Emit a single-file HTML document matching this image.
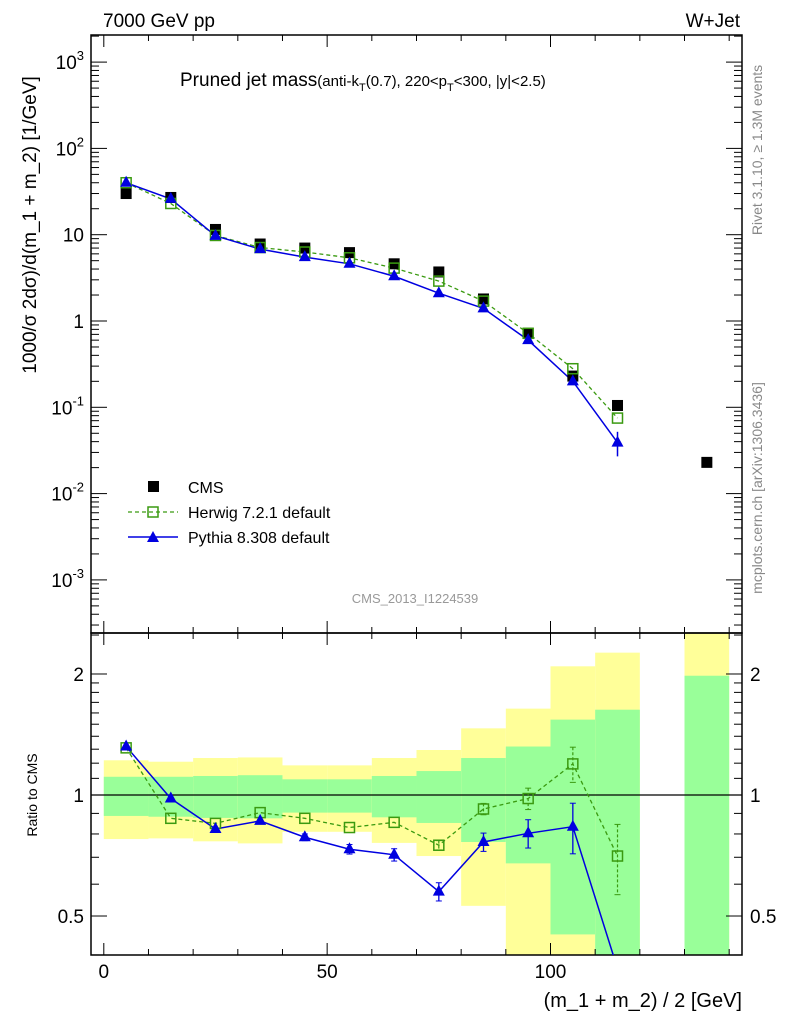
<!DOCTYPE html>
<html><head><meta charset="utf-8">
<style>
html,body{margin:0;padding:0;background:#fff;}
svg{display:block;font-family:"Liberation Sans",sans-serif;}
</style></head>
<body>
<svg id="chart" width="786" height="1024" viewBox="0 0 786 1024" xmlns="http://www.w3.org/2000/svg">
<g id="bands"></g>
<g id="grid"></g>
<g id="series"></g>
<text x="103" y="27" font-size="19">7000 GeV pp</text>
<text x="740" y="27" font-size="19" text-anchor="end">W+Jet</text>
<text x="180" y="86" font-size="19">Pruned jet mass<tspan font-size="15">(anti-k<tspan font-size="11" dy="5">T</tspan><tspan dy="-5">(0.7), 220&lt;p</tspan><tspan font-size="11" dy="5">T</tspan><tspan dy="-5">&lt;300, |y|&lt;2.5)</tspan></tspan></text>
<text transform="translate(36,225) rotate(-90)" font-size="19" text-anchor="middle">1000/σ 2dσ)/d(m_1 + m_2) [1/GeV]</text>
<text transform="translate(37,795) rotate(-90)" font-size="14" text-anchor="middle">Ratio to CMS</text>
<text x="742" y="1007" font-size="20" text-anchor="end">(m_1 + m_2) / 2 [GeV]</text>
<text transform="translate(762,150) rotate(-90)" font-size="14" fill="#888" text-anchor="middle">Rivet 3.1.10, ≥ 1.3M events</text>
<text transform="translate(762,488) rotate(-90)" font-size="14" fill="#888" text-anchor="middle">mcplots.cern.ch [arXiv:1306.3436]</text>
<text x="415" y="603" font-size="13" fill="#999" text-anchor="middle">CMS_2013_I1224539</text>
<g>
<rect x="148" y="481" width="11" height="11" fill="#000"/>
<text x="188" y="493" font-size="16">CMS</text>
<line x1="128" y1="512" x2="178" y2="512" stroke="#3a9a10" stroke-width="1.3" stroke-dasharray="4,3"/>
<rect x="148" y="507" width="10" height="10" fill="none" stroke="#3a9a10" stroke-width="1.5"/>
<text x="188" y="518" font-size="16">Herwig 7.2.1 default</text>
<line x1="128" y1="537" x2="178" y2="537" stroke="#0000e0" stroke-width="1.5"/>
<polygon points="153,531 159,542 147,542" fill="#0000e0"/>
<text x="188" y="543" font-size="16">Pythia 8.308 default</text>
</g>
</svg>
<script>
const xs = [5,15,25,35,45,55,65,75,85,95,105,115];
const cmsX = [5,15,25,35,45,55,65,75,85,95,105,115,135];
const cmsVals = [30,27,11.5,7.8,7.0,6.2,4.6,3.7,1.8,0.72,0.23,0.105,0.023];
const herwigVals = [40,23,9.8,7.1,6.3,5.4,4.1,2.9,1.7,0.72,0.28,0.075];
const pythiaVals = [40,26,9.7,6.8,5.5,4.6,3.3,2.1,1.4,0.6,0.2,0.039];
const herwigRatio = [1.31,0.875,0.85,0.904,0.875,0.83,0.855,0.75,0.923,0.98,1.195,0.705];
const herwigRatioErr = [0.01,0.01,0.01,0.01,0.01,0.01,0.01,0.02,0.03,0.06,0.12,0.14];
const pythiaRatio = [1.32,0.98,0.823,0.862,0.785,0.733,0.71,0.575,0.764,0.803,0.834,0.37];
const pythiaRatioErr = [0.01,0.01,0.01,0.01,0.015,0.02,0.025,0.03,0.04,0.065,0.12,0.01];
const pythiaErrLo = [0,0,0,0,0,0,0,0,0,0,0.01,0.012];
const pythiaErrHi = [0,0,0,0,0,0,0,0,0,0,0.01,0.013];
const binLo = [0,10,20,30,40,50,60,70,80,90,100,110,130];
const binHi = [10,20,30,40,50,60,70,80,90,100,110,120,140];
const yellowHi = [1.22,1.21,1.236,1.24,1.185,1.185,1.236,1.294,1.465,1.64,2.09,2.26,3];
const greenHi = [1.11,1.11,1.115,1.12,1.094,1.094,1.115,1.147,1.236,1.32,1.54,1.63,1.98];
const greenLo = [0.887,0.883,0.877,0.875,0.904,0.904,0.88,0.852,0.764,0.676,0.45,0.3,0.3];
const yellowLo = [0.777,0.78,0.767,0.758,0.81,0.81,0.76,0.705,0.53,0.3,0.3,0.3,0.3];
const upperTickExps = [-3,-2,-1,0,1,2,3];
const ratioTicks = [0.5,1,2];
const xTicks = [0,50,100];

const NS='http://www.w3.org/2000/svg';
const L=91,R=742,T=35,M=633,B=955;
const X=v=>103.8+v*4.467;
const YU=v=>321-86.3*Math.log10(v);
const YR=v=>795-402*Math.log10(v);
function mk(parent,tag,attrs){const e=document.createElementNS(NS,tag);for(const k in attrs)e.setAttribute(k,attrs[k]);parent.appendChild(e);return e;}
const gB=document.getElementById('bands'),gG=document.getElementById('grid'),gS=document.getElementById('series');

for(let i=0;i<binLo.length;i++){
  const x1=X(binLo[i]),x2=X(binHi[i]);
  const yt=Math.max(M,YR(yellowHi[i])),yb=Math.min(B,YR(yellowLo[i]));
  const y=mk(gB,'rect',{x:x1,y:yt,width:x2-x1,height:yb-yt,fill:'#ffff99'});
  
  
  const gt=Math.max(M,YR(greenHi[i])),gb=Math.min(B,YR(greenLo[i]));
  const g=mk(gB,'rect',{x:x1,y:gt,width:x2-x1,height:gb-gt,fill:'#99ff99'});
  
  
}
mk(gG,'rect',{x:L,y:T,width:R-L,height:M-T,fill:'none',stroke:'#000','stroke-width':1.5});
mk(gG,'rect',{x:L,y:M,width:R-L,height:B-M,fill:'none',stroke:'#000','stroke-width':1.5});
mk(gG,'line',{x1:L,x2:R,y1:YR(1),y2:YR(1),stroke:'#000','stroke-width':1.2});
for(let v=0;v<=140;v+=10){
  const major=v%50===0,len=major?12:6,x=X(v);
  [[M,-1],[B,-1],[T,1],[M,1]].forEach(([y0,d])=>mk(gG,'line',{x1:x,x2:x,y1:y0,y2:y0+d*len,stroke:'#000','stroke-width':1}));
}
xTicks.forEach(v=>{const t=mk(gG,'text',{x:X(v),y:978,'font-size':19,'text-anchor':'middle'});t.textContent=v;

});
for(let e=-4;e<=3;e++){for(let m=1;m<10;m++){const v=m*Math.pow(10,e),y=YU(v);if(y<T||y>M)continue;
  const len=m===1?16:8;
  mk(gG,'line',{x1:L,x2:L+len,y1:y,y2:y,stroke:'#000','stroke-width':1});
  mk(gG,'line',{x1:R,x2:R-len,y1:y,y2:y,stroke:'#000','stroke-width':1});}}
upperTickExps.forEach(e=>{const y=YU(Math.pow(10,e))+7;let t;
  if(e===0||e===1){t=mk(gG,'text',{x:84,y:y,'font-size':19,'text-anchor':'end'});t.textContent=e===0?'1':'10';}
  else{t=mk(gG,'text',{x:84,y:y,'font-size':19,'text-anchor':'end'});t.innerHTML='10<tspan font-size="13" dy="-9">'+e+'</tspan>';}
  
  });
[0.4,0.5,0.6,0.7,0.8,0.9,1,1.1,1.2,1.3,1.4,1.5,1.6,1.7,1.8,1.9,2,2.5].forEach(v=>{const y=YR(v);if(y<M||y>B)return;
  const len=(v===0.5||v===1||v===2)?16:8;
  mk(gG,'line',{x1:L,x2:L+len,y1:y,y2:y,stroke:'#000','stroke-width':1});
  mk(gG,'line',{x1:R,x2:R-len,y1:y,y2:y,stroke:'#000','stroke-width':1});});
ratioTicks.forEach(v=>{const y=YR(v)+7;
  const a=mk(gG,'text',{x:84,y:y,'font-size':19,'text-anchor':'end'});a.textContent=v;
  
  
  const b=mk(gG,'text',{x:750,y:y,'font-size':19});b.textContent=v;
  
  });

const defs=mk(document.getElementById('chart'),'defs',{});
const cp=mk(defs,'clipPath',{id:'rc'});mk(cp,'rect',{x:L,y:M,width:R-L,height:B-M});

const GREEN='#3a9a10',BLUE='#0000e0';
function tri(g,x,y){return mk(g,'polygon',{points:`${x},${y-7} ${x+6},${y+4} ${x-6},${y+4}`,fill:BLUE});}
const uh=mk(gS,'polyline',{points:xs.map((v,i)=>X(v)+','+YU(herwigVals[i])).join(' '),fill:'none',stroke:GREEN,'stroke-width':1.3,'stroke-dasharray':'4,3'});


const up=mk(gS,'polyline',{points:xs.map((v,i)=>X(v)+','+YU(pythiaVals[i])).join(' '),fill:'none',stroke:BLUE,'stroke-width':1.5});


cmsX.forEach((v,i)=>{const r=mk(gS,'rect',{x:X(v)-5.5,y:YU(cmsVals[i])-5.5,width:11,height:11,fill:'#000'});
  
  });
xs.forEach((v,i)=>{const r=mk(gS,'rect',{x:X(v)-5,y:YU(herwigVals[i])-5,width:10,height:10,fill:'none',stroke:GREEN,'stroke-width':1.5});
  
  });
xs.forEach((v,i)=>{const x=X(v);
  if(pythiaErrLo[i]>0)mk(gS,'line',{x1:x,x2:x,y1:YU(pythiaVals[i]+pythiaErrHi[i]),y2:YU(pythiaVals[i]-pythiaErrLo[i]),stroke:BLUE,'stroke-width':1.5});
  const p=tri(gS,x,YU(pythiaVals[i]));
  
  });
const rg=mk(gS,'g',{'clip-path':'url(#rc)'});
const rh=mk(rg,'polyline',{points:xs.map((v,i)=>X(v)+','+YR(herwigRatio[i])).join(' '),fill:'none',stroke:GREEN,'stroke-width':1.3,'stroke-dasharray':'4,3'});


const rp=mk(rg,'polyline',{points:xs.map((v,i)=>X(v)+','+YR(pythiaRatio[i])).join(' '),fill:'none',stroke:BLUE,'stroke-width':1.5});


xs.forEach((v,i)=>{const x=X(v);
  const e=herwigRatioErr[i];
  if(e>0.015){mk(rg,'line',{x1:x,x2:x,y1:YR(herwigRatio[i]+e),y2:YR(herwigRatio[i]-e),stroke:GREEN,'stroke-width':1.2,'stroke-dasharray':'3,2'});
    [herwigRatio[i]+e,herwigRatio[i]-e].forEach(q=>mk(rg,'line',{x1:x-3,x2:x+3,y1:YR(q),y2:YR(q),stroke:GREEN}));}
  const r=mk(rg,'rect',{x:x-5,y:YR(herwigRatio[i])-5,width:10,height:10,fill:'none',stroke:GREEN,'stroke-width':1.5});
  
  
  const pe=pythiaRatioErr[i];
  if(pe>0.012){mk(rg,'line',{x1:x,x2:x,y1:YR(pythiaRatio[i]+pe),y2:YR(pythiaRatio[i]-pe),stroke:BLUE,'stroke-width':1.3});
    [pythiaRatio[i]+pe,pythiaRatio[i]-pe].forEach(q=>mk(rg,'line',{x1:x-3,x2:x+3,y1:YR(q),y2:YR(q),stroke:BLUE}));}
  const p=tri(rg,x,YR(pythiaRatio[i]));
  
  });
</script>
</body></html>
